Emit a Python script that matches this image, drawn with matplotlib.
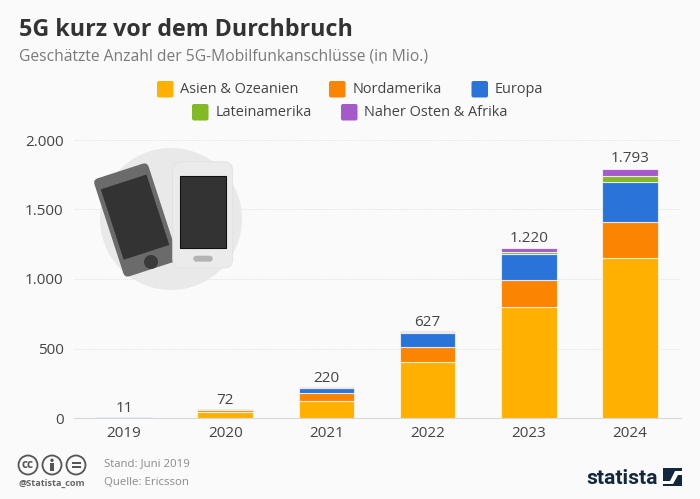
import matplotlib
matplotlib.use("Agg")
import matplotlib.pyplot as plt
from matplotlib.patches import Circle, FancyBboxPatch, Rectangle, Polygon
from matplotlib.transforms import Affine2D
import numpy as np

plt.rcParams['font.family'] = ['Open Sans', 'DejaVu Sans']

years = ['2019', '2020', '2021', '2022', '2023', '2024']
asia = [8, 45, 124, 403, 800, 1150]
north_america = [2, 14, 58, 110, 190, 260]
europe = [1, 8, 31, 98, 187, 288]
latin_america = [0, 2, 3, 7, 20, 43]
middle_east = [0, 3, 4, 9, 23, 52]
totals = [11, 72, 220, 627, 1220, 1793]
total_labels = ['11', '72', '220', '627', '1.220', '1.793']
y_ticks = [0, 500, 1000, 1500, 2000]
y_tick_labels = ['0', '500', '1.000', '1.500', '2.000']

series_names = ['Asien & Ozeanien', 'Nordamerika', 'Europa', 'Lateinamerika', 'Naher Osten & Afrika']
series_values = [asia, north_america, europe, latin_america, middle_east]
colors = ['#ffb000', '#fb8500', '#2a74d9', '#83b925', '#a45bc9']

BG = '#fafafa'
W, H = 700, 499

fig = plt.figure(figsize=(7, 4.99), dpi=100, facecolor=BG)

# main chart, placed in pixels
ax = fig.add_axes([73.5 / W, 1 - 418 / H, 607 / W, 278 / H], facecolor='none')
bottom = np.zeros(len(years))
for vals, col in zip(series_values, colors):
    ax.bar(years, vals, width=0.55, bottom=bottom, color=col, edgecolor=(1, 1, 1, 0.7),
           linewidth=0.8, zorder=3)
    bottom += np.array(vals)

# labels sit a bit closer on the small bars
label_gap = [0, 0, 12, 8, 20, 20]
for i, (tot, lab) in enumerate(zip(totals, total_labels)):
    ax.text(i, tot + label_gap[i], lab, ha='center', va='bottom', fontsize=11, color='#444444', zorder=5)

ax.set_xlim(-0.5, 5.5)
ax.set_ylim(0, 2000)
ax.set_yticks(y_ticks, y_tick_labels)
ax.tick_params(axis='both', length=0, labelsize=11, labelcolor='#444444')
ax.tick_params(axis='x', pad=6)
ax.tick_params(axis='y', pad=7)
ax.grid(axis='y', color='#e2e2e2', linewidth=0.7, linestyle=(0, (1, 1)), zorder=0)
ax.set_axisbelow(True)
for s in ['top', 'right', 'left']:
    ax.spines[s].set_visible(False)
ax.spines['bottom'].set_color('#d8d8d8')
ax.spines['bottom'].set_linewidth(0.8)

# overlay in pixel coords for titles, legend, picture, footer
ov = fig.add_axes([0, 0, 1, 1], facecolor='none')
ov.set_xlim(0, W)
ov.set_ylim(H, 0)
ov.axis('off')

ov.text(19, 30, '5G kurz vor dem Durchbruch', fontsize=16.75, fontweight='bold',
        color='#333333', va='center')
ov.text(19, 56, 'Geschätzte Anzahl der 5G-Mobilfunkanschlüsse (in Mio.)', fontsize=11.28,
        color='#7a7a7a', va='center')

# legend
legend_pos = [(157, 89), (329, 89), (471.5, 89), (192, 112), (341, 112)]
for (lx, ly), name, col in zip(legend_pos, series_names, colors):
    ov.add_patch(FancyBboxPatch((lx, ly - 8), 16.5, 16.5, boxstyle='round,pad=0,rounding_size=2',
                                color=col, lw=0))
    ov.text(lx + 23.5, ly, name, fontsize=10.45, color='#444444', va='center')

# phones
ov.add_patch(Circle((171, 219), 71, color='#e9e9e9', lw=0, zorder=4))
rot = Affine2D().rotate_deg_around(136, 220, -18) + ov.transData
ov.add_patch(FancyBboxPatch((107.5, 168.5), 57, 103, boxstyle='round,pad=0,rounding_size=5',
                            color='#6b6b6b', lw=0, transform=rot, zorder=5))
ov.add_patch(Rectangle((112, 180), 48, 74, color='#333333', lw=0, transform=rot, zorder=6))
ov.add_patch(Circle((151, 262), 7, color='#3a3a3a', lw=0, zorder=6))
ov.add_patch(FancyBboxPatch((172.7, 161.7), 60, 106.3, boxstyle='round,pad=0,rounding_size=9',
                            facecolor='#ebebeb', edgecolor='#e2e2e2', lw=0.6, zorder=7))
ov.add_patch(Rectangle((180, 175.7), 46.3, 72, facecolor='#333333', edgecolor='#111111', lw=0.8, zorder=8))
ov.add_patch(FancyBboxPatch((193.3, 255.7), 19.4, 6, boxstyle='round,pad=0,rounding_size=3',
                            color='#b4b4b4', lw=0, zorder=8))

# footer: cc icons
for cx in [28, 52, 76]:
    ov.add_patch(Circle((cx, 465), 9.5, facecolor='none', edgecolor='#555555', lw=1.3))
ov.text(28, 464.5, 'cc', fontsize=8.5, fontweight='bold', color='#555555', ha='center', va='center')
ov.add_patch(Circle((52, 460.3), 1.7, color='#555555', lw=0))
ov.add_patch(Rectangle((49.6, 463), 4.8, 8, color='#555555', lw=0))
ov.add_patch(Rectangle((71.5, 461.8), 9, 1.8, color='#555555', lw=0))
ov.add_patch(Rectangle((71.5, 466.2), 9, 1.8, color='#555555', lw=0))
ov.text(52, 483, '@Statista_com', fontsize=6.6, fontweight='bold', color='#666666', ha='center', va='center')
ov.text(104.5, 464, 'Stand: Juni 2019', fontsize=8.2, color='#8a8a8a', va='center')
ov.text(104.5, 482.5, 'Quelle: Ericsson', fontsize=8.2, color='#8a8a8a', va='center')

# statista logo
ov.text(586, 478, 'statista', fontsize=15.2, fontweight='bold', color='#12283f', va='center',
        family=['Roboto', 'DejaVu Sans'])
ov.add_patch(Rectangle((663, 468), 19, 18, color='#12283f', lw=0))
ov.add_patch(Polygon([(663, 481), (670, 481), (675, 471), (682, 471), (682, 475), (678, 475), (673, 484), (663, 484)],
                     color='white', lw=0))

fig.savefig('out.png', dpi=100, facecolor=BG)
